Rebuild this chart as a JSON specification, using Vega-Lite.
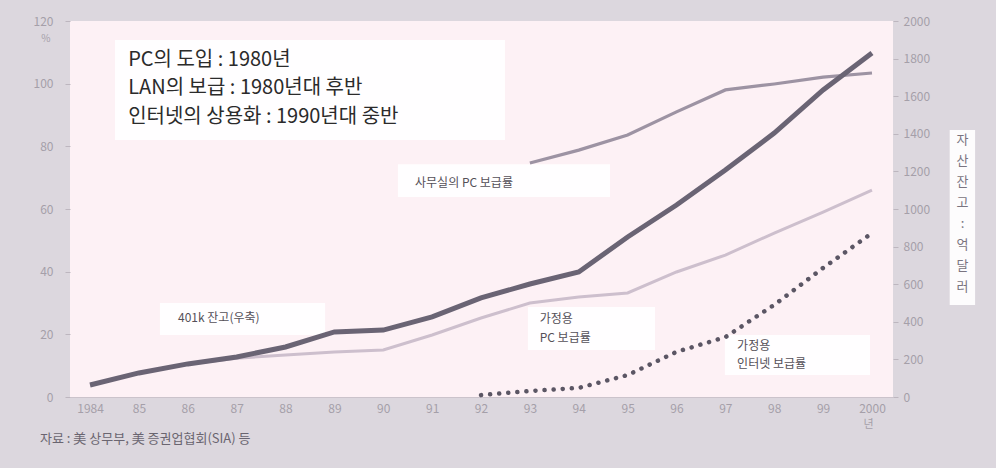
{
  "$schema": "https://vega.github.io/schema/vega-lite/v6.json",
  "width": 823,
  "height": 376,
  "autosize": {"type": "none"},
  "padding": {"left": 70, "top": 21, "right": 103, "bottom": 71},
  "background": "#dcd7de",
  "config": {
    "view": {"fill": "#fdf1f5", "stroke": null},
    "font": "Noto Sans CJK KR"
  },
  "title": {
    "text": "자료 : 美 상무부, 美 증권업협회(SIA) 등",
    "orient": "bottom",
    "anchor": "start",
    "frame": "group",
    "dx": -30,
    "offset": 4,
    "fontSize": 13,
    "fontWeight": "normal",
    "color": "#6a6570"
  },
  "datasets": {
    "pct": [
      {"series": "office", "year": 1993, "value": 74.7},
      {"series": "office", "year": 1994, "value": 78.8},
      {"series": "office", "year": 1995, "value": 83.6},
      {"series": "office", "year": 1996, "value": 91.0},
      {"series": "office", "year": 1997, "value": 98.0},
      {"series": "office", "year": 1998, "value": 99.9},
      {"series": "office", "year": 1999, "value": 102.1},
      {"series": "office", "year": 2000, "value": 103.4},
      {"series": "homepc", "year": 1984, "value": 3.8},
      {"series": "homepc", "year": 1985, "value": 7.7},
      {"series": "homepc", "year": 1986, "value": 10.5},
      {"series": "homepc", "year": 1987, "value": 12.4},
      {"series": "homepc", "year": 1988, "value": 13.4},
      {"series": "homepc", "year": 1989, "value": 14.4},
      {"series": "homepc", "year": 1990, "value": 15.0},
      {"series": "homepc", "year": 1991, "value": 19.8},
      {"series": "homepc", "year": 1992, "value": 25.2},
      {"series": "homepc", "year": 1993, "value": 30.0},
      {"series": "homepc", "year": 1994, "value": 31.9},
      {"series": "homepc", "year": 1995, "value": 33.2},
      {"series": "homepc", "year": 1996, "value": 39.9},
      {"series": "homepc", "year": 1997, "value": 45.3},
      {"series": "homepc", "year": 1998, "value": 52.3},
      {"series": "homepc", "year": 1999, "value": 59.0},
      {"series": "homepc", "year": 2000, "value": 66.0},
      {"series": "internet", "year": 1992, "value": 0.6},
      {"series": "internet", "year": 1993, "value": 1.9},
      {"series": "internet", "year": 1994, "value": 2.9},
      {"series": "internet", "year": 1995, "value": 7.0},
      {"series": "internet", "year": 1996, "value": 14.4},
      {"series": "internet", "year": 1997, "value": 19.1},
      {"series": "internet", "year": 1998, "value": 29.4},
      {"series": "internet", "year": 1999, "value": 41.2},
      {"series": "internet", "year": 2000, "value": 52.3}
    ],
    "k401": [
      {"year": 1984, "value": 64},
      {"year": 1985, "value": 128},
      {"year": 1986, "value": 176},
      {"year": 1987, "value": 213},
      {"year": 1988, "value": 266},
      {"year": 1989, "value": 346},
      {"year": 1990, "value": 356},
      {"year": 1991, "value": 426},
      {"year": 1992, "value": 527},
      {"year": 1993, "value": 601},
      {"year": 1994, "value": 665},
      {"year": 1995, "value": 851},
      {"year": 1996, "value": 1021},
      {"year": 1997, "value": 1207},
      {"year": 1998, "value": 1404},
      {"year": 1999, "value": 1633},
      {"year": 2000, "value": 1830}
    ],
    "boxes": [
      {"x1": 1984.51, "x2": 1992.49, "y1": 113.9, "y2": 82.0},
      {"x1": 1990.30, "x2": 1994.64, "y1": 74.3, "y2": 63.8},
      {"x1": 1985.43, "x2": 1988.81, "y1": 30.0, "y2": 19.8},
      {"x1": 1992.96, "x2": 1995.56, "y1": 28.7, "y2": 15.0},
      {"x1": 1996.99, "x2": 1999.96, "y1": 19.8, "y2": 7.0},
      {"x1": 2001.59, "x2": 2002.11, "y1": 85.2, "y2": 29.4}
    ],
    "bigtext": [
      {"x": 1984.78, "y": 107.6, "label": "PC의 도입 : 1980년"},
      {"x": 1984.78, "y": 98.6, "label": "LAN의 보급 : 1980년대 후반"},
      {"x": 1984.78, "y": 89.4, "label": "인터넷의 상용화 : 1990년대 중반"}
    ],
    "smalltext": [
      {"x": 1990.65, "y": 68.3, "label": "사무실의 PC 보급률"},
      {"x": 1985.80, "y": 25.2, "label": "401k 잔고(우축)"},
      {"x": 1993.20, "y": 25.0, "label": "가정용"},
      {"x": 1993.20, "y": 18.8, "label": "PC 보급률"},
      {"x": 1997.24, "y": 16.4, "label": "가정용"},
      {"x": 1997.24, "y": 10.4, "label": "인터넷 보급률"}
    ]
  },
  "layer": [
    {
      "layer": [
        {
          "data": {"name": "boxes"},
          "mark": {"type": "rect", "fill": "#ffffff", "opacity": 0.92},
          "encoding": {
            "x": {"field": "x1", "type": "quantitative", "scale": {"domain": [1983.59, 2000.43], "nice": false, "zero": false}},
            "x2": {"field": "x2"},
            "y": {"field": "y1", "type": "quantitative", "scale": {"domain": [0, 120], "nice": false}},
            "y2": {"field": "y2"}
          }
        },
        {
          "data": {"name": "pct"},
          "transform": [{"filter": "datum.series == 'office'"}],
          "mark": {"type": "line", "color": "#9d93a3", "strokeWidth": 3.2},
          "encoding": {
            "x": {"field": "year", "type": "quantitative"},
            "y": {"field": "value", "type": "quantitative"}
          }
        },
        {
          "data": {"name": "pct"},
          "transform": [{"filter": "datum.series == 'homepc'"}],
          "mark": {"type": "line", "color": "#cdbfcd", "strokeWidth": 3},
          "encoding": {
            "x": {"field": "year", "type": "quantitative"},
            "y": {"field": "value", "type": "quantitative"}
          }
        },
        {
          "data": {"name": "pct"},
          "transform": [{"filter": "datum.series == 'internet'"}],
          "mark": {"type": "line", "color": "#5b5664", "strokeWidth": 4.5, "strokeDash": [0.1, 9], "strokeCap": "round"},
          "encoding": {
            "x": {"field": "year", "type": "quantitative"},
            "y": {"field": "value", "type": "quantitative"}
          }
        },
        {
          "data": {"name": "bigtext"},
          "mark": {"type": "text", "align": "left", "baseline": "middle", "fontSize": 20, "color": "#2b2b2b"},
          "encoding": {
            "x": {"field": "x", "type": "quantitative"},
            "y": {"field": "y", "type": "quantitative"},
            "text": {"field": "label"}
          }
        },
        {
          "data": {"name": "smalltext"},
          "mark": {"type": "text", "align": "left", "baseline": "middle", "fontSize": 12, "color": "#555058"},
          "encoding": {
            "x": {"field": "x", "type": "quantitative"},
            "y": {
              "field": "y",
              "type": "quantitative",
              "axis": {
                "values": [0, 20, 40, 60, 80, 100, 120],
                "grid": false,
                "domain": false,
                "tickSize": 5,
                "tickColor": "#bdb6bf",
                "labelPadding": 12,
                "labelFontSize": 12,
                "labelColor": "#a59fa9",
                "title": "%",
                "titleAngle": 0,
                "titleX": -20,
                "titleY": 17,
                "titleAlign": "right",
                "titleBaseline": "middle",
                "titleFontSize": 10,
                "titleFontWeight": "normal",
                "titleColor": "#a59fa9"
              }
            },
            "text": {"field": "label"}
          }
        }
      ]
    },
    {
      "data": {"name": "k401"},
      "mark": {"type": "line", "color": "#6a6474", "strokeWidth": 5},
      "encoding": {
        "x": {
          "field": "year",
          "type": "quantitative",
          "scale": {"domain": [1983.59, 2000.43], "nice": false, "zero": false},
          "axis": {
            "values": [1984, 1985, 1986, 1987, 1988, 1989, 1990, 1991, 1992, 1993, 1994, 1995, 1996, 1997, 1998, 1999, 2000],
            "labelExpr": "(datum.value == 1984 || datum.value == 2000) ? '' + datum.value : slice('' + datum.value, 2)",
            "grid": false,
            "ticks": false,
            "domainColor": "#cbc3cb",
            "labelPadding": 6,
            "labelFontSize": 12,
            "labelColor": "#a59fa9",
            "title": "년",
            "titleX": 798,
            "titleY": 27,
            "titleAlign": "center",
            "titleBaseline": "middle",
            "titleFontSize": 11,
            "titleFontWeight": "normal",
            "titleColor": "#a59fa9"
          }
        },
        "y": {
          "field": "value",
          "type": "quantitative",
          "scale": {"domain": [0, 2000], "nice": false},
          "axis": {
            "orient": "right",
            "zindex": 1,
            "values": [0, 200, 400, 600, 800, 1000, 1200, 1400, 1600, 1800, 2000],
            "format": "d",
            "grid": false,
            "domain": false,
            "tickSize": 5,
            "tickColor": "#bdb6bf",
            "labelPadding": 5,
            "labelFontSize": 12,
            "labelColor": "#a59fa9",
            "title": ["자", "산", "잔", "고", ":", "억", "달", "러"],
            "titleAngle": 0,
            "titleX": 69,
            "titleY": 112,
            "titleAlign": "center",
            "titleBaseline": "top",
            "titleLineHeight": 21,
            "titleFontSize": 13,
            "titleFontWeight": "normal",
            "titleColor": "#7a7480"
          }
        }
      }
    }
  ],
  "resolve": {"scale": {"y": "independent"}}
}
